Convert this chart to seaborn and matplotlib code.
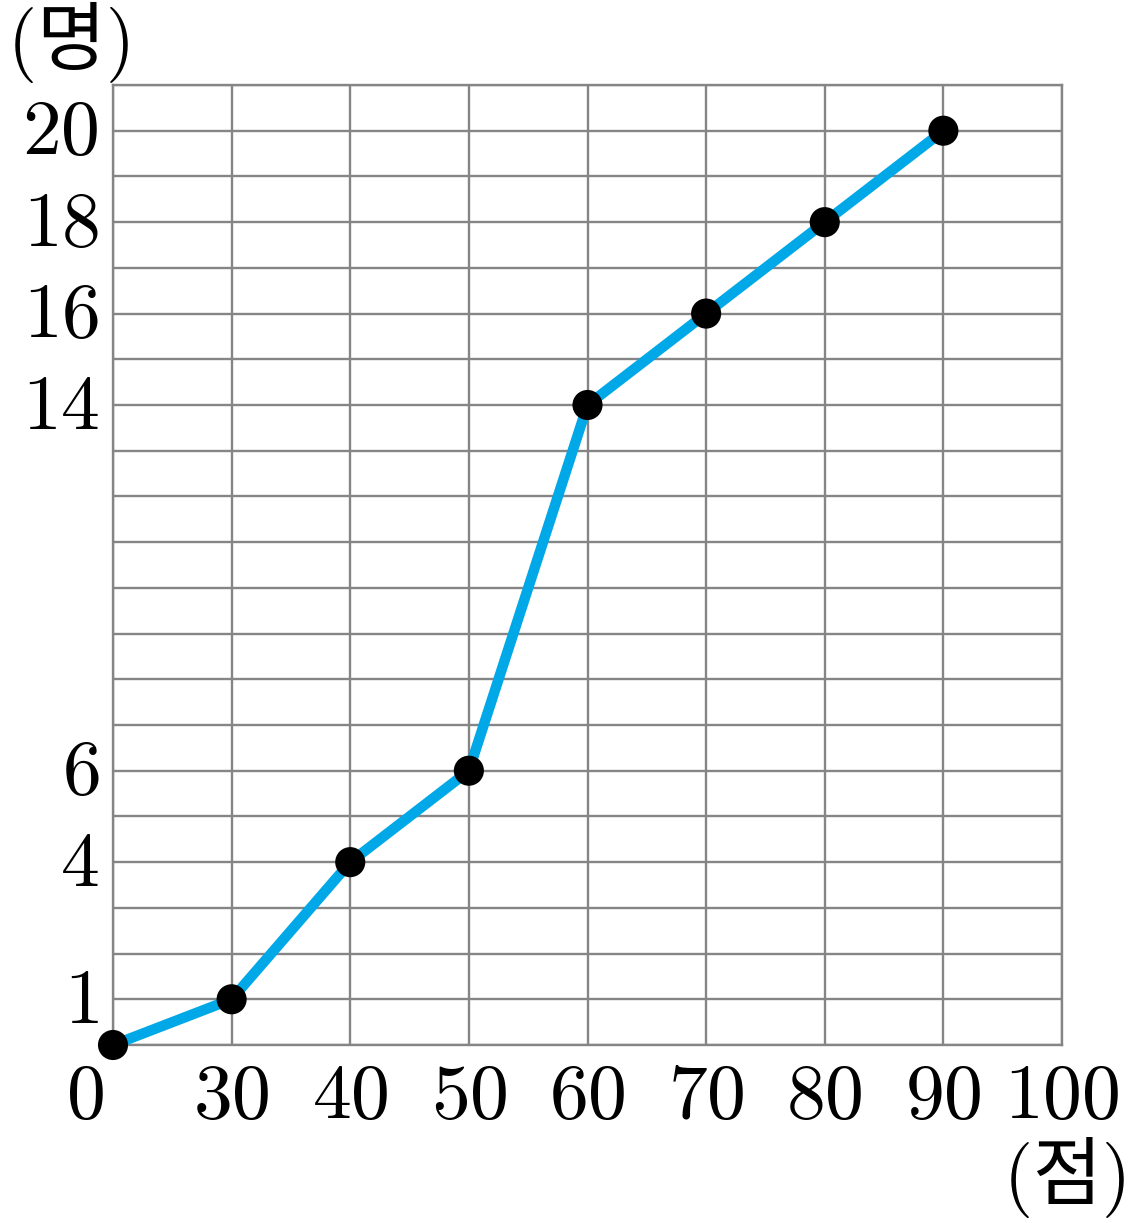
import matplotlib
matplotlib.use("Agg")
import matplotlib.pyplot as plt
import matplotlib.transforms as mtransforms
import seaborn as sns
import pandas as pd

# data
x_labels = ['0', '30', '40', '50', '60', '70', '80', '90', '100']
cum_counts = [0, 1, 4, 6, 14, 16, 18, 20]
y_ticks = [1, 4, 6, 14, 16, 18, 20]

df = pd.DataFrame({'pos': list(range(len(cum_counts))), 'count': cum_counts})

sns.set_style('white')
plt.rcParams['font.family'] = ['Noto Sans CJK KR', 'DejaVu Sans']
plt.rcParams['mathtext.fontset'] = 'cm'
plt.rcParams['text.color'] = 'black'

fig = plt.figure(figsize=(11.28, 12.23), dpi=100)
ax = fig.add_axes([113 / 1128, 178 / 1223, (1062 - 113) / 1128, (1045 - 85) / 1223])

grid_col = '#858585'
ax.set_xlim(0, len(x_labels) - 1)
ax.set_ylim(0, 21)
ax.set_xticks(range(len(x_labels)))
ax.set_xticklabels(['$' + t + '$' for t in x_labels])
ax.set_yticks(y_ticks)
ax.set_yticklabels(['$%d$' % v for v in y_ticks])
ax.set_yticks(range(0, 22), minor=True)
ax.grid(True, which='both', axis='y', color=grid_col, linewidth=1.7)
ax.grid(True, which='major', axis='x', color=grid_col, linewidth=1.7)
ax.tick_params(which='both', length=0)
ax.tick_params(axis='x', pad=8, labelsize=56, labelcolor='black')
ax.tick_params(axis='y', pad=10, labelsize=56, labelcolor='black')
for s in ax.spines.values():
    s.set_color(grid_col)
    s.set_linewidth(1.7)
ax.set_axisbelow(True)

# shift the "0" label to the lower left of the origin
first = ax.get_xticklabels()[0]
first.set_transform(first.get_transform() + mtransforms.ScaledTranslation(-28 / 100, 0, fig.dpi_scale_trans))
# nudge y labels up so digits sit centred on their grid line
for lab in ax.get_yticklabels():
    lab.set_transform(lab.get_transform() + mtransforms.ScaledTranslation(0, 7 / 100, fig.dpi_scale_trans))

sns.lineplot(data=df, x='pos', y='count', ax=ax, color='#00a8e8', linewidth=7.5,
             solid_capstyle='round', zorder=3, clip_on=False)
sns.scatterplot(data=df, x='pos', y='count', ax=ax, color='black', s=470,
                edgecolor='none', zorder=4, clip_on=False)
ax.set_xlabel('')
ax.set_ylabel('')

fig.text(68 / 1128, 1 - 42 / 1223, '$($명$)$', fontsize=54, ha='center', va='center', color='black')
fig.text(1064 / 1128, 1 - 1177 / 1223, '$($점$)$', fontsize=54, ha='center', va='center', color='black')

fig.savefig('out.png', dpi=100)
